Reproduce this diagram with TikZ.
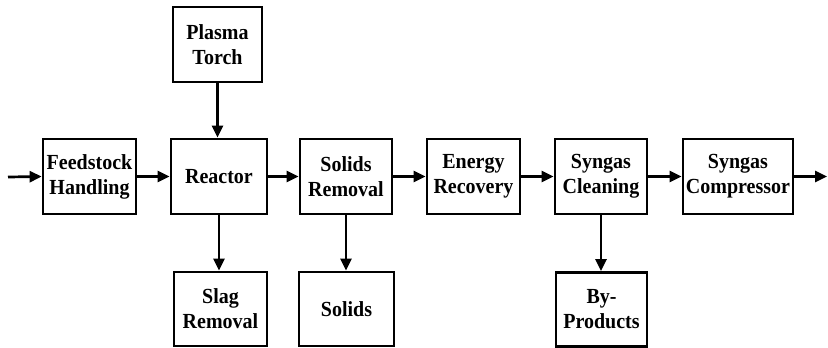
\documentclass[tikz,border=0pt]{standalone}
\usepackage{fontspec}
\setmainfont{Liberation Serif}[FakeStretch=0.93]
\usetikzlibrary{arrows.meta}
\begin{document}
\begin{tikzpicture}[x=1pt,y=-1pt,
  unit/.style={draw,line width=2.7pt,align=center,inner sep=0pt,
    font=\bfseries\fontsize{21.5}{25}\selectfont},
  flow/.style={line width=2.7pt,-{Triangle[length=12pt,width=11pt]}}]
\useasboundingbox (0,0) rectangle (828,348);
% process units: centre and size
\node[unit,minimum width=89pt,minimum height=75pt] (torch) at (217.5,44.5) {Plasma\\Torch};
\node[unit,minimum width=93pt,minimum height=75pt] (feed) at (89.5,176.5) {Feedstock\\Handling};
\node[unit,minimum width=96pt,minimum height=75pt] (reactor) at (219,176.5) {Reactor};
\node[unit,minimum width=92pt,minimum height=75pt] (solrem) at (346,176.5) {Solids\\Removal};
\node[unit,minimum width=93pt,minimum height=75pt] (energy) at (473.5,176.5) {Energy\\Recovery};
\node[unit,minimum width=92pt,minimum height=75pt] (clean) at (601,176.5) {Syngas\\Cleaning};
\node[unit,minimum width=110pt,minimum height=75pt] (comp) at (738,176.5) {Syngas\\Compressor};
\node[unit,minimum width=93pt,minimum height=74pt] (slag) at (220.5,309) {Slag\\Removal};
\node[unit,minimum width=95pt,minimum height=74pt] (solids) at (346.5,309) {Solids};
\node[unit,minimum width=91pt,minimum height=74pt] (byprod) at (601.5,309.5) {By-\\Products};
% free ends of the feed and product lines
\coordinate (in) at (8,177);
\coordinate (out) at (827,176.5);
% main process line
\draw[flow] (in) -- (feed.west);
\draw[flow] (feed) -- (reactor);
\draw[flow] (reactor) -- (solrem);
\draw[flow] (solrem) -- (energy);
\draw[flow] (energy) -- (clean);
\draw[flow] (clean) -- (comp);
\draw[flow] (comp.east) -- (out);
% side streams
\draw[flow] (torch.south) -- (torch.south |- reactor.north);
\draw[flow] (reactor.south) -- (reactor.south |- slag.north);
\draw[flow] (solrem.south) -- (solrem.south |- solids.north);
\draw[flow] (clean.south) -- (clean.south |- byprod.north);
\end{tikzpicture}
\end{document}
